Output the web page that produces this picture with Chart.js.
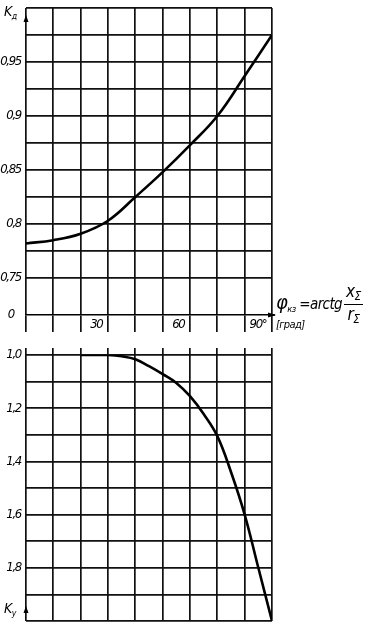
<!DOCTYPE html>
<html><head><meta charset="utf-8">
<script src="https://cdn.jsdelivr.net/npm/chart.js@4/dist/chart.umd.min.js"></script>
<style>
html,body{margin:0;padding:0;background:#fff;width:386px;height:634px;overflow:hidden;}
canvas{position:absolute;left:0;}
.t{position:absolute;font-family:"DejaVu Sans Condensed","DejaVu Sans",sans-serif;font-style:italic;color:#000;white-space:nowrap;line-height:1;letter-spacing:-0.6px;}
sub{font-size:62%;vertical-align:-3px;}
.frac{display:inline-block;vertical-align:middle;text-align:center;font-size:17px;margin-left:2px;}
.frac sub{font-size:70%;}
.frac .n{display:block;border-bottom:1.5px solid #000;padding:0 2px 1px;}
.frac .d{display:block;padding-top:1px;}
</style></head><body>
<canvas id="cTop" width="386" height="284" style="top:0"></canvas>
<canvas id="cMid" width="386" height="54" style="top:278px"></canvas>
<canvas id="cBot" width="386" height="286" style="top:348px"></canvas>

<div class="t" style="left:4px;top:4px;font-size:14px">K<sub>д</sub></div>
<div class="t" style="left:4px;top:601px;font-size:14px">K<sub>у</sub></div>
<div class="t" style="left:276px;top:283px;font-size:15px"><span style="font-size:20px">φ</span><sub>кз</sub> =arctg<span class="frac"><span class="n">x<sub>Σ</sub></span><span class="d">r<sub>Σ</sub></span></span></div>
<div class="t" style="left:276px;top:319px;font-size:11px">[град]</div>

<script>
// ---- data ----
const phiA = [0, 10, 20, 30, 40, 50, 60, 70, 80, 90];
const kA   = [0.782, 0.785, 0.791, 0.803, 0.825, 0.848, 0.873, 0.900, 0.937, 0.975];
const phiY = [20, 25, 30, 35, 40, 45, 50, 55, 60, 65, 70, 75, 80, 85, 90];
const kY   = [1.0, 1.0, 1.0, 1.005, 1.016, 1.042, 1.072, 1.105, 1.155, 1.222, 1.305, 1.44, 1.6, 1.8, 2.0];

const xTickValues = [30, 60, 90];
const xTickLabels = ['30', '60', '90°'];
const topGrid = [0.75, 0.775, 0.8, 0.825, 0.85, 0.875, 0.9, 0.925, 0.95, 0.975, 1.0];
const topTickValues = [0.75, 0.8, 0.85, 0.9, 0.95];
const topTickLabels = ['0,75', '0,8', '0,85', '0,9', '0,95'];
const botGrid = [1.0, 1.1, 1.2, 1.3, 1.4, 1.5, 1.6, 1.7, 1.8, 1.9, 2.0];
const botTickValues = [1.0, 1.2, 1.4, 1.6, 1.8];
const botTickLabels = ['1,0', '1,2', '1,4', '1,6', '1,8'];
const midTickValues = [0];
const midTickLabels = ['0'];

// ---- styles ----
const FONT = {family: '"DejaVu Sans Condensed","DejaVu Sans",sans-serif', style: 'italic', size: 13};
const GRID = '#111';
const GW = 1.7;
const RIGHT_PAD = 114;

function lookup(vals, labels) {
  return v => { const i = vals.findIndex(t => Math.abs(t - v) < 1e-9); return i >= 0 ? labels[i] : ''; };
}
const noPad = s => { s.paddingTop = 0; s.paddingBottom = 0; s.paddingLeft = 0; s.paddingRight = 0; };
const fixW = s => { s.width = 26; noPad(s); };
const fixH = h => s => { s.height = h; noPad(s); };
const narrow = {id: 'narrow', beforeDraw(c) { c.ctx.letterSpacing = '-1.3px'; }};
const base = {responsive: false, animation: false, events: [],
  plugins: {legend: {display: false}, tooltip: {enabled: false}}};

function arrowUp(ctx, x, tip, b) {
  ctx.beginPath(); ctx.moveTo(x, tip); ctx.lineTo(x - 2.5, b); ctx.lineTo(x + 2.5, b); ctx.closePath(); ctx.fill();
}

// top chart: K_д
new Chart(document.getElementById('cTop'), {
  type: 'line',
  data: {datasets: [{data: phiA.map((x, i) => ({x, y: kA[i]})), borderColor: '#000', borderWidth: 2.6,
    pointRadius: 0, tension: 0.4, fill: false}]},
  options: Object.assign({}, base, {
    layout: {padding: {left: 0, right: RIGHT_PAD, top: 8, bottom: 6}},
    scales: {
      x: {type: 'linear', min: 0, max: 90, ticks: {display: false, stepSize: 10},
        grid: {color: GRID, lineWidth: GW, drawTicks: false}, border: {display: false},
        afterFit: fixH(0)},
      y: {type: 'linear', min: 0.75, max: 1.0,
        afterBuildTicks: s => { s.ticks = topGrid.map(v => ({value: v})); },
        ticks: {callback: lookup(topTickValues, topTickLabels), font: FONT, color: '#000', padding: 5, autoSkip: false},
        grid: {color: GRID, lineWidth: GW, drawTicks: false}, border: {display: false}, afterFit: fixW}
    }
  }),
  plugins: [narrow, {id: 'arr', afterDraw(c) { const ctx = c.ctx, a = c.chartArea; ctx.save(); ctx.fillStyle = '#000'; arrowUp(ctx, a.left, a.top + 7, a.top + 14); ctx.restore(); }}]
});

// middle axis: φ
new Chart(document.getElementById('cMid'), {
  type: 'line',
  data: {datasets: []},
  options: Object.assign({}, base, {
    layout: {padding: {left: 0, right: RIGHT_PAD, top: 0, bottom: 0}},
    scales: {
      x: {type: 'linear', min: 0, max: 90, position: 'bottom',
        ticks: {stepSize: 10, autoSkip: false, maxRotation: 0, align: 'end', padding: -15, font: FONT, color: '#000',
          callback: v => { const l = lookup(xTickValues, xTickLabels)(v); return l ? l + '\u2002\u2009' : ''; }},
        grid: {color: GRID, lineWidth: GW, drawTicks: true, tickLength: 17},
        border: {display: true, color: '#000', width: 1.6},
        afterFit: fixH(17)},
      y: {type: 'linear', min: 0, max: 1,
        afterBuildTicks: s => { s.ticks = midTickValues.map(v => ({value: v})); },
        ticks: {callback: lookup(midTickValues, midTickLabels), font: FONT, color: '#000', padding: 12},
        grid: {display: false, drawTicks: false}, border: {display: false}, afterFit: fixW}
    }
  }),
  plugins: [narrow, {id: 'arr', afterDraw(c) {
    const ctx = c.ctx, a = c.chartArea, y = Math.round(c.scales.y.getPixelForValue(0));
    ctx.save(); ctx.fillStyle = '#000'; ctx.strokeStyle = '#000'; ctx.lineWidth = 1.6;
    ctx.beginPath(); ctx.moveTo(a.right, y); ctx.lineTo(a.right + 3, y); ctx.stroke();
    ctx.beginPath(); ctx.moveTo(a.right + 4, y); ctx.lineTo(a.right - 4, y - 2.5); ctx.lineTo(a.right - 4, y + 2.5); ctx.closePath(); ctx.fill();
    ctx.restore();
  }}]
});

// bottom chart: K_у
new Chart(document.getElementById('cBot'), {
  type: 'line',
  data: {datasets: [{data: phiY.map((x, i) => ({x, y: kY[i]})), borderColor: '#000', borderWidth: 2.6,
    pointRadius: 0, tension: 0.4, fill: false}]},
  options: Object.assign({}, base, {
    layout: {padding: {left: 0, right: RIGHT_PAD, top: 0, bottom: 13}},
    scales: {
      x: {type: 'linear', min: 0, max: 90, position: 'top', ticks: {display: false, stepSize: 10},
        grid: {color: GRID, lineWidth: GW, drawTicks: true, tickLength: 7}, border: {display: false},
        afterFit: fixH(7)},
      y: {type: 'linear', min: 1.0, max: 2.0, reverse: true,
        afterBuildTicks: s => { s.ticks = botGrid.map(v => ({value: v})); },
        ticks: {callback: lookup(botTickValues, botTickLabels), font: FONT, color: '#000', padding: 5, autoSkip: false},
        grid: {color: GRID, lineWidth: GW, drawTicks: false}, border: {display: false}, afterFit: fixW}
    }
  }),
  plugins: [narrow, {id: 'arr', afterDraw(c) { const ctx = c.ctx, a = c.chartArea; ctx.save(); ctx.fillStyle = '#000'; arrowUp(ctx, a.left, a.bottom - 15, a.bottom - 8); ctx.restore(); }}]
});
</script>
</body></html>
